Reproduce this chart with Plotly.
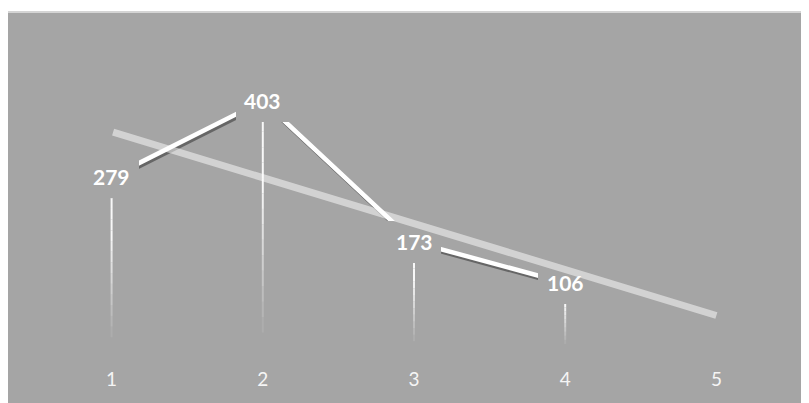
import numpy as np
import plotly.graph_objects as go

# ---- data ----
categories = [1, 2, 3, 4, 5]
tick_labels = ["1", "2", "3", "4", "5"]
series_x = [1, 2, 3, 4]
series_values = [279, 403, 173, 106]

BG = "#a5a5a5"
FONT = "Lato, 'Open Sans', sans-serif"

# linear trendline, forecast forward one period
slope, intercept = np.polyfit(series_x, series_values, 1)
trend_x = [categories[0], categories[-1]]
trend_y = [slope * v + intercept for v in trend_x]

W, H = 809, 403
ML, MR, MT, MB = 28, 25, 64, 63
plot_w = W - ML - MR
plot_h = H - MT - MB
Y_MAX = 450
X_RANGE = [0.5, 5.5]

px_per_x = plot_w / (X_RANGE[1] - X_RANGE[0])
px_per_y = plot_h / Y_MAX

fig = go.Figure()

# drop lines with gradient (fading towards the axis)
N = 16
for k in range(N):
    frac = (k + 0.5) / N
    alpha = min(1.0, 1.6 * frac - 0.05) * 0.92
    alpha = max(alpha, 0.0)
    xs, ys = [], []
    for x, v in zip(series_x, series_values):
        xs += [x, x, None]
        ys += [v * k / N, v * (k + 1) / N, None]
    fig.add_trace(go.Scatter(x=xs, y=ys, mode="lines",
                             line=dict(color=f"rgba(255,255,255,{alpha:.3f})", width=2),
                             hoverinfo="skip", showlegend=False))

# shadow of series line (overlay axes offset by a few pixels)
fig.add_trace(go.Scatter(x=series_x, y=series_values, mode="lines",
                         line=dict(color="rgba(60,60,60,0.6)", width=3.5),
                         xaxis="x2", yaxis="y2",
                         hoverinfo="skip", showlegend=False))

# series line (own overlay so it is drawn above the shadow)
fig.add_trace(go.Scatter(x=series_x, y=series_values, mode="lines",
                         line=dict(color="#ffffff", width=4.5),
                         xaxis="x3", yaxis="y3",
                         hoverinfo="skip", showlegend=False))

# label backgrounds that mask lines around the data labels
for x, v in zip(series_x, series_values):
    fig.add_annotation(x=x, y=v, text=" ", showarrow=False,
                       bgcolor=BG, width=54, height=42,
                       borderpad=0, borderwidth=0,
                       font=dict(family=FONT, size=20, color=BG))

# trendline (semi-transparent white, above the label backgrounds)
fig.add_annotation(x=trend_x[1], y=trend_y[1], ax=trend_x[0], ay=trend_y[0],
                   xref="x", yref="y", axref="x", ayref="y",
                   text="", showarrow=True, arrowhead=0, arrowwidth=7,
                   arrowcolor="rgba(255,255,255,0.5)", standoff=0, startstandoff=0)

# data label texts
for x, v in zip(series_x, series_values):
    fig.add_annotation(x=x, y=v, text=f"<b>{v}</b>", showarrow=False,
                       font=dict(family=FONT, size=21, color="#ffffff"))

dx = 1.5 / px_per_x
dy = 3 / px_per_y

# chart area frame
def to_paper_x(p):
    return (p - ML) / plot_w

def to_paper_y(p):
    return (H - MB - p) / plot_h

fig.add_shape(type="rect", xref="paper", yref="paper",
              x0=to_paper_x(-1), x1=to_paper_x(815),
              y0=to_paper_y(410), y1=to_paper_y(4),
              fillcolor=BG, line=dict(color="#d4d4d4", width=2), layer="below")

fig.update_layout(
    width=W, height=H,
    margin=dict(l=ML, r=MR, t=MT, b=MB),
    paper_bgcolor="#ffffff",
    plot_bgcolor="rgba(0,0,0,0)",
    showlegend=False,
    xaxis=dict(range=X_RANGE, tickvals=categories, ticktext=tick_labels,
               showgrid=False, zeroline=False, showline=False,
               ticks="outside", ticklen=14, tickcolor="rgba(0,0,0,0)",
               tickfont=dict(family=FONT, size=19, color="#f5f5f5"),
               fixedrange=True),
    yaxis=dict(range=[0, Y_MAX], visible=False, showgrid=False, zeroline=False,
               fixedrange=True),
    xaxis2=dict(range=[X_RANGE[0] - dx, X_RANGE[1] - dx], overlaying="x",
                visible=False, showgrid=False, zeroline=False),
    yaxis2=dict(range=[0 + dy, Y_MAX + dy], overlaying="y",
                visible=False, showgrid=False, zeroline=False),
    xaxis3=dict(range=X_RANGE, overlaying="x",
                visible=False, showgrid=False, zeroline=False),
    yaxis3=dict(range=[0, Y_MAX], overlaying="y",
                visible=False, showgrid=False, zeroline=False),
)

fig.write_html("out.html")
